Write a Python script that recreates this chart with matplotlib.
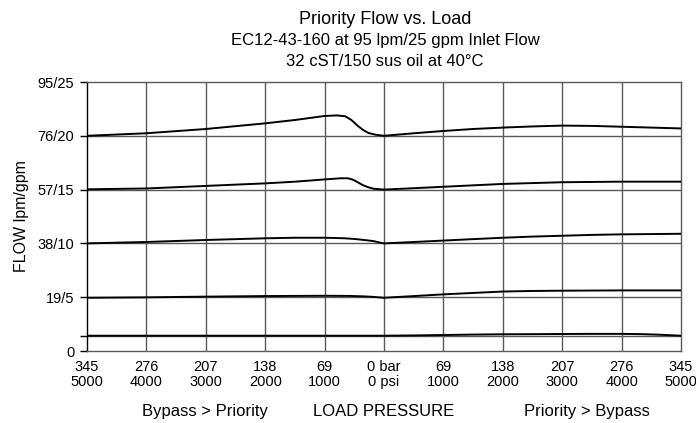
import matplotlib
matplotlib.use("Agg")
import matplotlib.pyplot as plt

plt.rcParams['font.family'] = ['Liberation Sans', 'DejaVu Sans']

# x positions in bar (negative = Bypass > Priority side)
x_top = [-345, -276, -207, -138, -103, -69, -55, -45, -38, -30, -24, -18, -10, 0, 35, 69, 103, 138, 172, 207, 241, 276, 310, 345]
y_top = [76.0, 76.9, 78.4, 80.4, 81.6, 83.0, 83.2, 82.9, 81.6, 79.4, 78.0, 77.0, 76.4, 76.0, 76.9, 77.7, 78.4, 78.9, 79.3, 79.6, 79.5, 79.2, 78.9, 78.6]

x_2 = [-345, -276, -207, -138, -103, -69, -50, -42, -36, -30, -24, -18, -12, 0, 35, 69, 103, 138, 172, 207, 241, 276, 310, 345]
y_2 = [57.1, 57.4, 58.3, 59.2, 59.8, 60.6, 61.0, 61.0, 60.5, 59.5, 58.5, 57.8, 57.3, 57.0, 57.5, 58.0, 58.5, 59.0, 59.3, 59.6, 59.7, 59.8, 59.8, 59.8]

x_3 = [-345, -276, -207, -138, -103, -69, -45, -32, -20, -12, -5, 0, 35, 69, 103, 138, 172, 207, 241, 276, 310, 345]
y_3 = [38.0, 38.5, 39.2, 39.8, 40.0, 40.0, 39.8, 39.5, 39.1, 38.8, 38.3, 38.0, 38.5, 39.0, 39.5, 40.0, 40.4, 40.7, 41.0, 41.2, 41.3, 41.4]

x_4 = [-345, -276, -207, -138, -69, -40, -24, -12, 0, 35, 69, 103, 138, 172, 207, 276, 345]
y_4 = [18.8, 18.95, 19.2, 19.4, 19.5, 19.45, 19.3, 19.1, 18.8, 19.4, 20.0, 20.5, 21.0, 21.2, 21.3, 21.4, 21.4]

x_5 = [-345, -276, -207, -138, -69, 0, 35, 69, 103, 138, 172, 207, 241, 276, 300, 320, 345]
y_5 = [5.4, 5.4, 5.4, 5.4, 5.4, 5.4, 5.5, 5.65, 5.8, 5.9, 5.95, 6.0, 6.05, 6.05, 5.95, 5.75, 5.4]

xtick_vals = [-345, -276, -207, -138, -69, 0, 69, 138, 207, 276, 345]
xtick_labels = ['345\n5000', '276\n4000', '207\n3000', '138\n2000', '69\n1000', '0 bar\n0 psi',
                '69\n1000', '138\n2000', '207\n3000', '276\n4000', '345\n5000']
ytick_vals = [0, 5.4, 19, 38, 57, 76, 95]
ytick_labels = ['0', '', '19/5', '38/10', '57/15', '76/20', '95/25']
hgrid_vals = [5.4, 19, 38, 57, 76]

fig = plt.figure(figsize=(6.96, 4.23), dpi=100)
ax = fig.add_axes([87/696, 1 - 351/423, (681 - 87)/696, (351 - 82)/423])

grid_col = '#5a5a5a'
for xv in xtick_vals[1:-1]:
    ax.axvline(xv, color=grid_col, lw=1.0, zorder=1)
for yv in hgrid_vals:
    ax.axhline(yv, color=grid_col, lw=1.0, zorder=1)

for xs, ys in [(x_top, y_top), (x_2, y_2), (x_3, y_3), (x_4, y_4), (x_5, y_5)]:
    ax.plot(xs, ys, color='black', lw=1.4, zorder=3, solid_joinstyle='round')

ax.set_xlim(-345, 345)
ax.set_ylim(0, 95)
ax.set_xticks(xtick_vals)
ax.set_xticklabels(xtick_labels, fontsize=10.5, linespacing=1.05)
ax.tick_params(axis='x', length=0, pad=6.5)
ax.set_yticks(ytick_vals)
ax.set_yticklabels(ytick_labels, fontsize=10.5)
ax.tick_params(axis='y', length=5, width=1, pad=4, direction='out')
for s in ax.spines.values():
    s.set_color(grid_col)
    s.set_linewidth(1.0)
ax.spines['left'].set_color('black')

ax.set_ylabel('FLOW lpm/gpm', fontsize=11.5, labelpad=6)

fig.text(385/696, 1 - 19/423, 'Priority Flow vs. Load', ha='center', va='center', fontsize=13)
fig.text(385/696, 1 - 41/423, 'EC12-43-160 at 95 lpm/25 gpm Inlet Flow', ha='center', va='center', fontsize=12)
fig.text(385/696, 1 - 62/423, '32 cST/150 sus oil at 40\u00b0C', ha='center', va='center', fontsize=12)

fig.text(205/696, 1 - 411/423, 'Bypass > Priority', ha='center', va='center', fontsize=12)
fig.text(384/696, 1 - 411/423, 'LOAD PRESSURE', ha='center', va='center', fontsize=12)
fig.text(587/696, 1 - 411/423, 'Priority > Bypass', ha='center', va='center', fontsize=12)

fig.savefig('out.png', dpi=100)
